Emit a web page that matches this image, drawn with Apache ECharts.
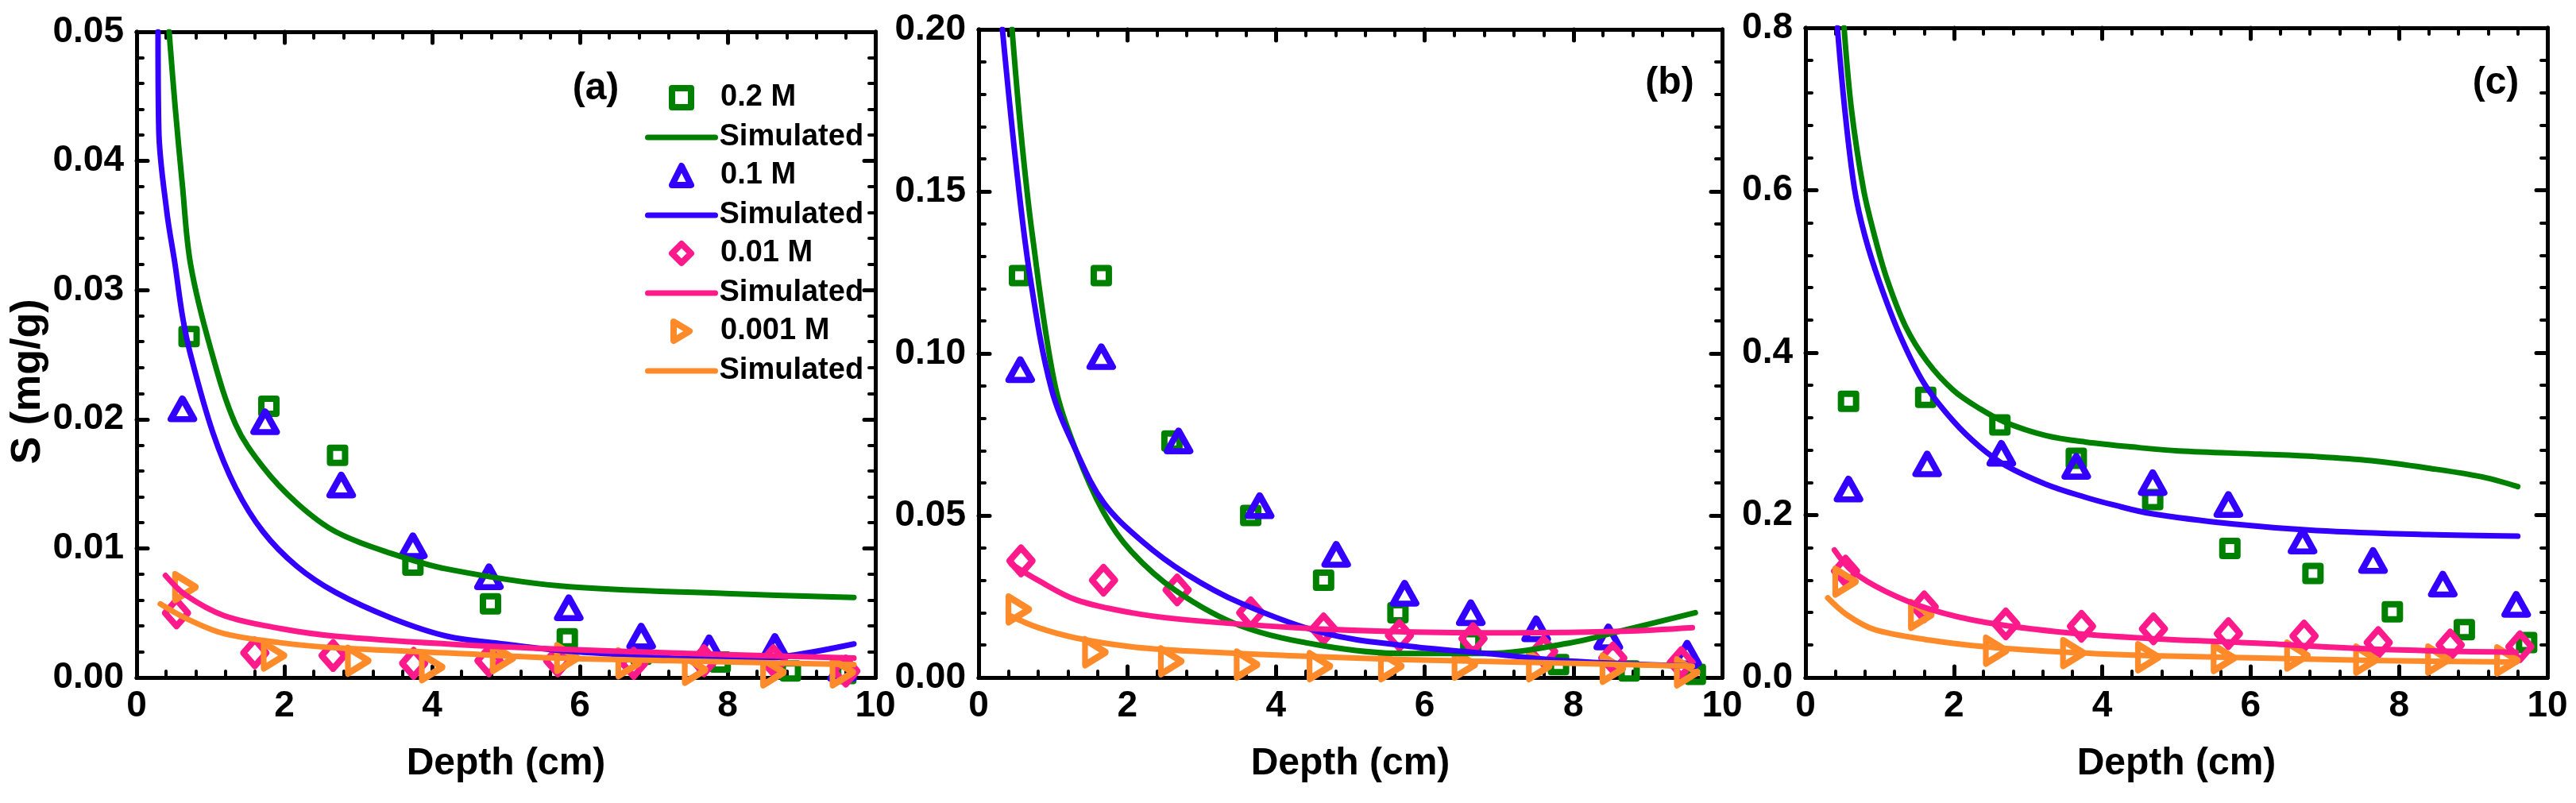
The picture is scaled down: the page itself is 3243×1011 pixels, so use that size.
<!DOCTYPE html>
<html>
<head>
<meta charset="utf-8">
<title>S vs Depth</title>
<script src="https://cdn.jsdelivr.net/npm/echarts@6.0.0/dist/echarts.min.js"></script>
<style>
html, body { margin: 0; padding: 0; background: #fff; }
#chart { width: 3243px; height: 1011px; }
</style>
</head>
<body>
<div id="chart"></div>
<script>
// measured points [depth cm, S mg/g], panel (a)
var a_obs_02 = [[0.71, 0.0264], [1.79, 0.0210], [2.72, 0.0172], [3.74, 0.0087], [4.79, 0.0057], [5.83, 0.0030], [6.83, 0.0018], [7.9, 0.0012], [8.85, 0.0005], [9.6, 0.0003]];
var a_obs_01 = [[0.62, 0.0208], [1.74, 0.0198], [2.77, 0.0149], [3.74, 0.0102], [4.77, 0.0078], [5.85, 0.0054], [6.83, 0.0032], [7.75, 0.0023], [8.64, 0.0024], [9.55, 0.0007]];
var a_obs_001 = [[0.54, 0.0050], [1.6, 0.0019], [2.66, 0.0017], [3.75, 0.0011], [4.77, 0.0013], [5.7, 0.0013], [6.73, 0.0011], [7.68, 0.0013], [8.62, 0.0013], [9.6, 0.0005]];
var a_obs_0001 = [[0.66, 0.0070], [1.86, 0.0017], [3.0, 0.0013], [4.0, 0.0008], [4.96, 0.0015], [5.83, 0.0015], [6.66, 0.0011], [7.56, 0.0006], [8.62, 0.0004], [9.56, 0.0004]];
// simulated curves, panel (a)
var a_sim_02 = [[0.44, 0.05], [0.52, 0.0443], [0.62, 0.0381], [0.73, 0.032], [1.0, 0.0255], [1.34, 0.0196], [1.71, 0.0163], [2.17, 0.0135], [2.69, 0.0113], [3.45, 0.0096], [4.2, 0.0084], [5.71, 0.0071], [7.98, 0.0065], [9.71, 0.0062]];
var a_sim_01 = [[0.29, 0.05], [0.30, 0.0424], [0.41, 0.036], [0.52, 0.032], [0.62, 0.028], [0.73, 0.025], [1.03, 0.019], [1.34, 0.0147], [1.71, 0.0113], [2.17, 0.0086], [2.69, 0.0066], [3.45, 0.0046], [4.2, 0.0032], [4.96, 0.0026], [5.71, 0.0021], [6.47, 0.0018], [7.2, 0.0015], [8.0, 0.0014], [8.73, 0.0016], [9.71, 0.0026]];
var a_sim_001 = [[0.39, 0.0079], [0.66, 0.0064], [1.18, 0.0048], [1.94, 0.0038], [2.69, 0.0032], [4.2, 0.0026], [5.71, 0.0022], [7.22, 0.0019], [9.71, 0.0015]];
var a_sim_0001 = [[0.32, 0.0057], [0.66, 0.0046], [1.18, 0.0034], [1.94, 0.0027], [2.69, 0.0023], [4.2, 0.0019], [5.71, 0.0015], [7.22, 0.0013], [9.71, 0.0010]];

// panel (b)
var b_obs_02 = [[0.55, 0.124], [1.65, 0.124], [2.6, 0.073], [3.66, 0.050], [4.64, 0.030], [5.64, 0.020], [6.62, 0.011], [7.8, 0.004], [8.75, 0.002], [9.64, 0.001]];
var b_obs_01 = [[0.56, 0.095], [1.65, 0.099], [2.69, 0.073], [3.78, 0.053], [4.81, 0.038], [5.73, 0.026], [6.62, 0.020], [7.5, 0.015], [8.47, 0.0125], [9.53, 0.0075]];
var b_obs_001 = [[0.57, 0.036], [1.68, 0.030], [2.67, 0.027], [3.66, 0.020], [4.64, 0.015], [5.66, 0.013], [6.65, 0.012], [7.6, 0.008], [8.53, 0.006], [9.45, 0.0046]];
var b_obs_0001 = [[0.54, 0.021], [1.57, 0.0078], [2.59, 0.005], [3.61, 0.004], [4.59, 0.0035], [5.55, 0.0035], [6.54, 0.004], [7.54, 0.0035], [8.53, 0.0027], [9.53, 0.0016]];
var b_sim_02 = [[0.45, 0.20], [0.57, 0.168], [0.72, 0.137], [1.02, 0.091], [1.31, 0.070], [1.68, 0.051], [2.05, 0.039], [2.64, 0.027], [3.52, 0.016], [4.63, 0.0098], [5.73, 0.0074], [6.84, 0.0074], [7.94, 0.0106], [8.68, 0.0146], [9.64, 0.020]];
var b_sim_01 = [[0.32, 0.20], [0.5, 0.159], [0.69, 0.124], [0.98, 0.089], [1.31, 0.070], [1.68, 0.054], [2.2, 0.042], [2.79, 0.032], [3.52, 0.023], [4.63, 0.0138], [5.73, 0.0098], [6.84, 0.0074], [7.94, 0.0051], [9.64, 0.0035]];
var b_sim_001 = [[0.44, 0.035], [0.8, 0.030], [1.31, 0.024], [2.05, 0.020], [2.79, 0.0178], [4.26, 0.0154], [5.73, 0.0141], [7.2, 0.0138], [8.68, 0.0143], [9.6, 0.0154]];
var b_sim_0001 = [[0.43, 0.019], [0.8, 0.0154], [1.31, 0.0122], [2.05, 0.0095], [2.79, 0.0082], [4.26, 0.0067], [5.73, 0.0055], [7.2, 0.0048], [9.6, 0.0035]];

// panel (c)
var c_obs_02 = [[0.58, 0.340], [1.62, 0.345], [2.62, 0.311], [3.65, 0.270], [4.68, 0.219], [5.72, 0.159], [6.84, 0.128], [7.91, 0.081], [8.88, 0.059], [9.72, 0.043]];
var c_obs_01 = [[0.58, 0.232], [1.64, 0.263], [2.64, 0.276], [3.65, 0.260], [4.68, 0.240], [5.7, 0.213], [6.7, 0.168], [7.65, 0.144], [8.59, 0.115], [9.58, 0.090]];
var c_obs_001 = [[0.54, 0.131], [1.6, 0.087], [2.7, 0.066], [3.72, 0.063], [4.69, 0.060], [5.7, 0.054], [6.72, 0.051], [7.72, 0.043], [8.69, 0.040], [9.63, 0.038]];
var c_obs_0001 = [[0.54, 0.118], [1.56, 0.077], [2.57, 0.033], [3.61, 0.030], [4.62, 0.025], [5.64, 0.024], [6.63, 0.027], [7.56, 0.022], [8.53, 0.022], [9.46, 0.021]];
var c_sim_02 = [[0.52, 0.8], [0.62, 0.699], [0.78, 0.602], [0.93, 0.544], [1.1, 0.49], [1.35, 0.432], [1.64, 0.389], [1.99, 0.354], [2.35, 0.331], [2.7, 0.314], [3.24, 0.298], [3.77, 0.29], [4.5, 0.283], [5.03, 0.279], [6.14, 0.275], [6.89, 0.272], [7.63, 0.267], [8.38, 0.258], [9.12, 0.247], [9.6, 0.235]];
var c_sim_01 = [[0.43, 0.8], [0.53, 0.699], [0.66, 0.602], [0.8, 0.544], [1.0, 0.486], [1.28, 0.42], [1.6, 0.362], [1.99, 0.316], [2.35, 0.284], [2.7, 0.261], [3.24, 0.238], [3.77, 0.222], [4.13, 0.213], [4.65, 0.202], [5.77, 0.189], [6.89, 0.181], [8.38, 0.176], [9.6, 0.174]];
var c_sim_001 = [[0.39, 0.157], [0.63, 0.131], [1.08, 0.106], [1.68, 0.084], [2.42, 0.068], [3.54, 0.055], [4.65, 0.048], [6.14, 0.042], [7.63, 0.035], [9.58, 0.031]];
var c_sim_0001 = [[0.3, 0.098], [0.56, 0.077], [0.93, 0.059], [1.68, 0.046], [2.42, 0.038], [3.54, 0.031], [4.65, 0.027], [6.14, 0.024], [7.63, 0.021], [9.58, 0.019]];

// labels and axis ranges
var concNames = ['0.2 M', '0.1 M', '0.01 M', '0.001 M'];
var panelTags = ['(a)', '(b)', '(c)'];
var yMax = [0.05, 0.20, 0.8];
var yStep = [0.01, 0.05, 0.2];
var yDecimals = [2, 2, 1];

var obsData = [
    [a_obs_02, a_obs_01, a_obs_001, a_obs_0001],
    [b_obs_02, b_obs_01, b_obs_001, b_obs_0001],
    [c_obs_02, c_obs_01, c_obs_001, c_obs_0001]
];
var simData = [
    [a_sim_02, a_sim_01, a_sim_001, a_sim_0001],
    [b_sim_02, b_sim_01, b_sim_001, b_sim_0001],
    [c_sim_02, c_sim_01, c_sim_001, c_sim_0001]
];

var FONT = "'Liberation Sans', Arial, sans-serif";
var colors = ['#008000', '#3300ff', '#ff1a8c', '#ff8a2a'];
var symbols = ['rect', 'triangle', 'diamond', 'triangle'];
var symbolSizes = [[19, 19], [29, 26], [29, 33], [32, 26]];
var symbolRotates = [0, 0, 0, -90];
// legend icons (the rotated triangle is given as a path, legend ignores symbolRotate)
var legendIcons = ['rect', 'triangle', 'diamond', 'path://M0,0L20,12L0,24Z'];

var grids = [
    { left: 172, top: 40, width: 930, height: 813 },
    { left: 1232, top: 37, width: 936, height: 816 },
    { left: 2273, top: 35, width: 934, height: 818 }
];
var tagPos = [[750, 112], [2102, 105], [3142, 105]];

function frameAxis(extra) {
    var base = {
        splitLine: { show: false },
        axisLine: { show: true, onZero: false, lineStyle: { color: '#000', width: 5, cap: 'round' } },
        axisTick: { show: true, inside: true, length: 14, lineStyle: { color: '#000', width: 5, cap: 'round' } },
        minorTick: { show: true, splitNumber: 5, length: 8, lineStyle: { color: '#000', width: 4, cap: 'round' } }
    };
    for (var k in extra) base[k] = extra[k];
    return base;
}

var xAxes = [], yAxes = [], series = [], graphics = [];

for (var p = 0; p < 3; p++) {
    xAxes.push(frameAxis({
        gridIndex: p, type: 'value', position: 'bottom', min: 0, max: 10, interval: 2,
        name: 'Depth (cm)', nameLocation: 'middle', nameGap: 85,
        nameTextStyle: { fontFamily: FONT, fontWeight: 'bold', fontSize: 48, color: '#000' },
        axisLabel: { show: true, margin: 13, fontFamily: FONT, fontWeight: 'bold', fontSize: 46, color: '#000' }
    }));
    xAxes.push(frameAxis({
        gridIndex: p, type: 'value', position: 'top', min: 0, max: 10, interval: 2,
        axisLabel: { show: false }
    }));
    (function (dec) {
        yAxes.push(frameAxis({
            gridIndex: p, type: 'value', position: 'left', min: 0, max: yMax[p], interval: yStep[p],
            name: p === 0 ? 'S (mg/g)' : '', nameLocation: 'middle', nameGap: 110,
            nameTextStyle: { fontFamily: FONT, fontWeight: 'bold', fontSize: 52, color: '#000', padding: [0, 68, 0, 0] },
            axisLabel: {
                show: true, margin: 16, fontFamily: FONT, fontWeight: 'bold', fontSize: 46, color: '#000',
                formatter: function (v) { return v.toFixed(dec); }
            }
        }));
    })(yDecimals[p]);
    yAxes.push(frameAxis({
        gridIndex: p, type: 'value', position: 'right', min: 0, max: yMax[p], interval: yStep[p],
        axisLabel: { show: false }
    }));

    for (var k = 0; k < 4; k++) {
        series.push({
            name: concNames[k],
            type: 'scatter',
            xAxisIndex: 2 * p, yAxisIndex: 2 * p,
            data: obsData[p][k],
            symbol: symbols[k],
            symbolSize: symbolSizes[k],
            symbolRotate: symbolRotates[k],
            itemStyle: { color: 'rgba(255,255,255,0)', borderColor: colors[k], borderWidth: 8, borderJoin: 'round', opacity: 1 },
            emphasis: { disabled: true },
            z: 3
        });
        series.push({
            name: 'Simulated ' + concNames[k],
            type: 'line',
            xAxisIndex: 2 * p, yAxisIndex: 2 * p,
            data: simData[p][k],
            smooth: 0.35,
            symbol: 'none',
            lineStyle: { color: colors[k], width: 7, cap: 'round', join: 'round' },
            itemStyle: { color: colors[k] },
            emphasis: { disabled: true },
            z: 4
        });
    }

    graphics.push({
        type: 'text', x: tagPos[p][0], y: tagPos[p][1],
        style: {
            text: panelTags[p], fill: '#000', align: 'center', verticalAlign: 'middle',
            font: 'bold 48px ' + FONT
        }
    });
}

// legend for panel (a): markers and curves sit in two interleaved columns
var markerLegend = [], lineLegend = [];
for (var i = 0; i < 4; i++) {
    markerLegend.push({
        name: concNames[i],
        icon: legendIcons[i],
        itemStyle: { color: '#fff', borderColor: colors[i], borderWidth: 8, borderJoin: 'round', opacity: 1 }
    });
    lineLegend.push({
        name: 'Simulated ' + concNames[i],
        itemStyle: { color: 'rgba(0,0,0,0)', borderWidth: 0, opacity: 0 },
        lineStyle: { color: colors[i], width: 7, cap: 'round', opacity: 1 }
    });
}
var legendText = { fontFamily: FONT, fontWeight: 'bold', fontSize: 38, lineHeight: 40, color: '#000' };

var chart = echarts.init(document.getElementById('chart'));
chart.setOption({
    animation: false,
    backgroundColor: '#fff',
    grid: grids.map(function (g) {
        return { left: g.left, top: g.top, width: g.width, height: g.height, containLabel: false, outerBoundsMode: 'none' };
    }),
    xAxis: xAxes,
    yAxis: yAxes,
    legend: [{
        orient: 'vertical',
        left: 837, top: 98,
        itemWidth: 24, itemHeight: 24, itemGap: 58,
        selectedMode: false,
        data: markerLegend,
        textStyle: Object.assign({ padding: [0, 0, 0, 32] }, legendText)
    }, {
        orient: 'vertical',
        left: 807, top: 148,
        itemWidth: 85, itemHeight: 24, itemGap: 58,
        selectedMode: false,
        data: lineLegend,
        formatter: function () { return 'Simulated'; },
        textStyle: legendText
    }],
    graphic: graphics,
    series: series
});

window.addEventListener('resize', function () { chart.resize(); });
</script>
</body>
</html>
